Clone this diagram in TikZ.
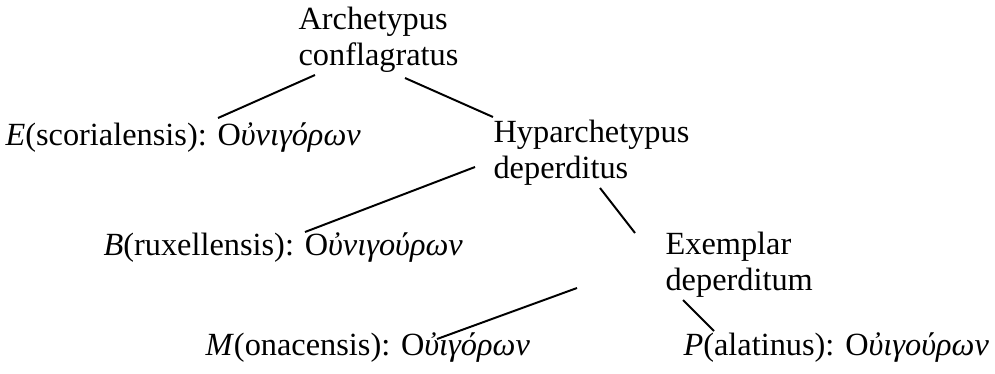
\documentclass[tikz,border=0pt]{standalone}
\usepackage{fontspec}
\setmainfont{Liberation Serif}
\usepackage{tikz}
\tikzset{
  lost/.style={anchor=base west,align=left,inner sep=0pt,
    font=\fontsize{11.5}{12.8}\selectfont},
  codex/.style={anchor=base west,inner sep=0pt,
    font=\fontsize{11.5}{12.8}\selectfont},
  stemma/.style={line width=.7pt}
}

\begin{document}
\begin{tikzpicture}[x=0.0125cm,y=-0.0125cm]
\useasboundingbox (0,0) rectangle (995,373);
% lost copies (anchored at the baseline of their last line)
\node[lost] (arch) at (298,65) {Archetypus\\conflagratus};
\node[lost] (hyp) at (493,178) {Hyparchetypus\\deperditus};
\node[lost] (ex) at (665,290) {Exemplar\\deperditum};
% extant manuscripts
\node[codex] (E) at (5,145) {\textit{E}(scorialensis): Ο\textit{ὐνιγόρων}};
\node[codex] (B) at (103,255) {\textit{B}(ruxellensis): Ο\textit{ὐνιγούρων}};
\node[codex] (M) at (205,355) {\textit{M}(onacensis): Ο\textit{ὐιγόρων}};
\node[codex] (P) at (683,355) {\textit{P}(alatinus): Ο\textit{ὐιγούρων}};
% stemma lines
\draw[stemma] ([shift={(17,10)}]arch.base west) -- ([shift={(213,-27)}]E.base west);
\draw[stemma] ([shift={(107,13)}]arch.base west) -- ([shift={(0,-61)}]hyp.base west);
\draw[stemma] ([shift={(-18,-11)}]hyp.base west) -- ([shift={(202,-23)}]B.base west);
\draw[stemma] ([shift={(107,10)}]hyp.base west) -- ([shift={(-30,-57)}]ex.base west);
\draw[stemma] ([shift={(-88,-2)}]ex.base west) -- ([shift={(232,-16)}]M.base west);
\draw[stemma] ([shift={(18,10)}]ex.base west) -- ([shift={(31,-24)}]P.base west);
\end{tikzpicture}
\end{document}
